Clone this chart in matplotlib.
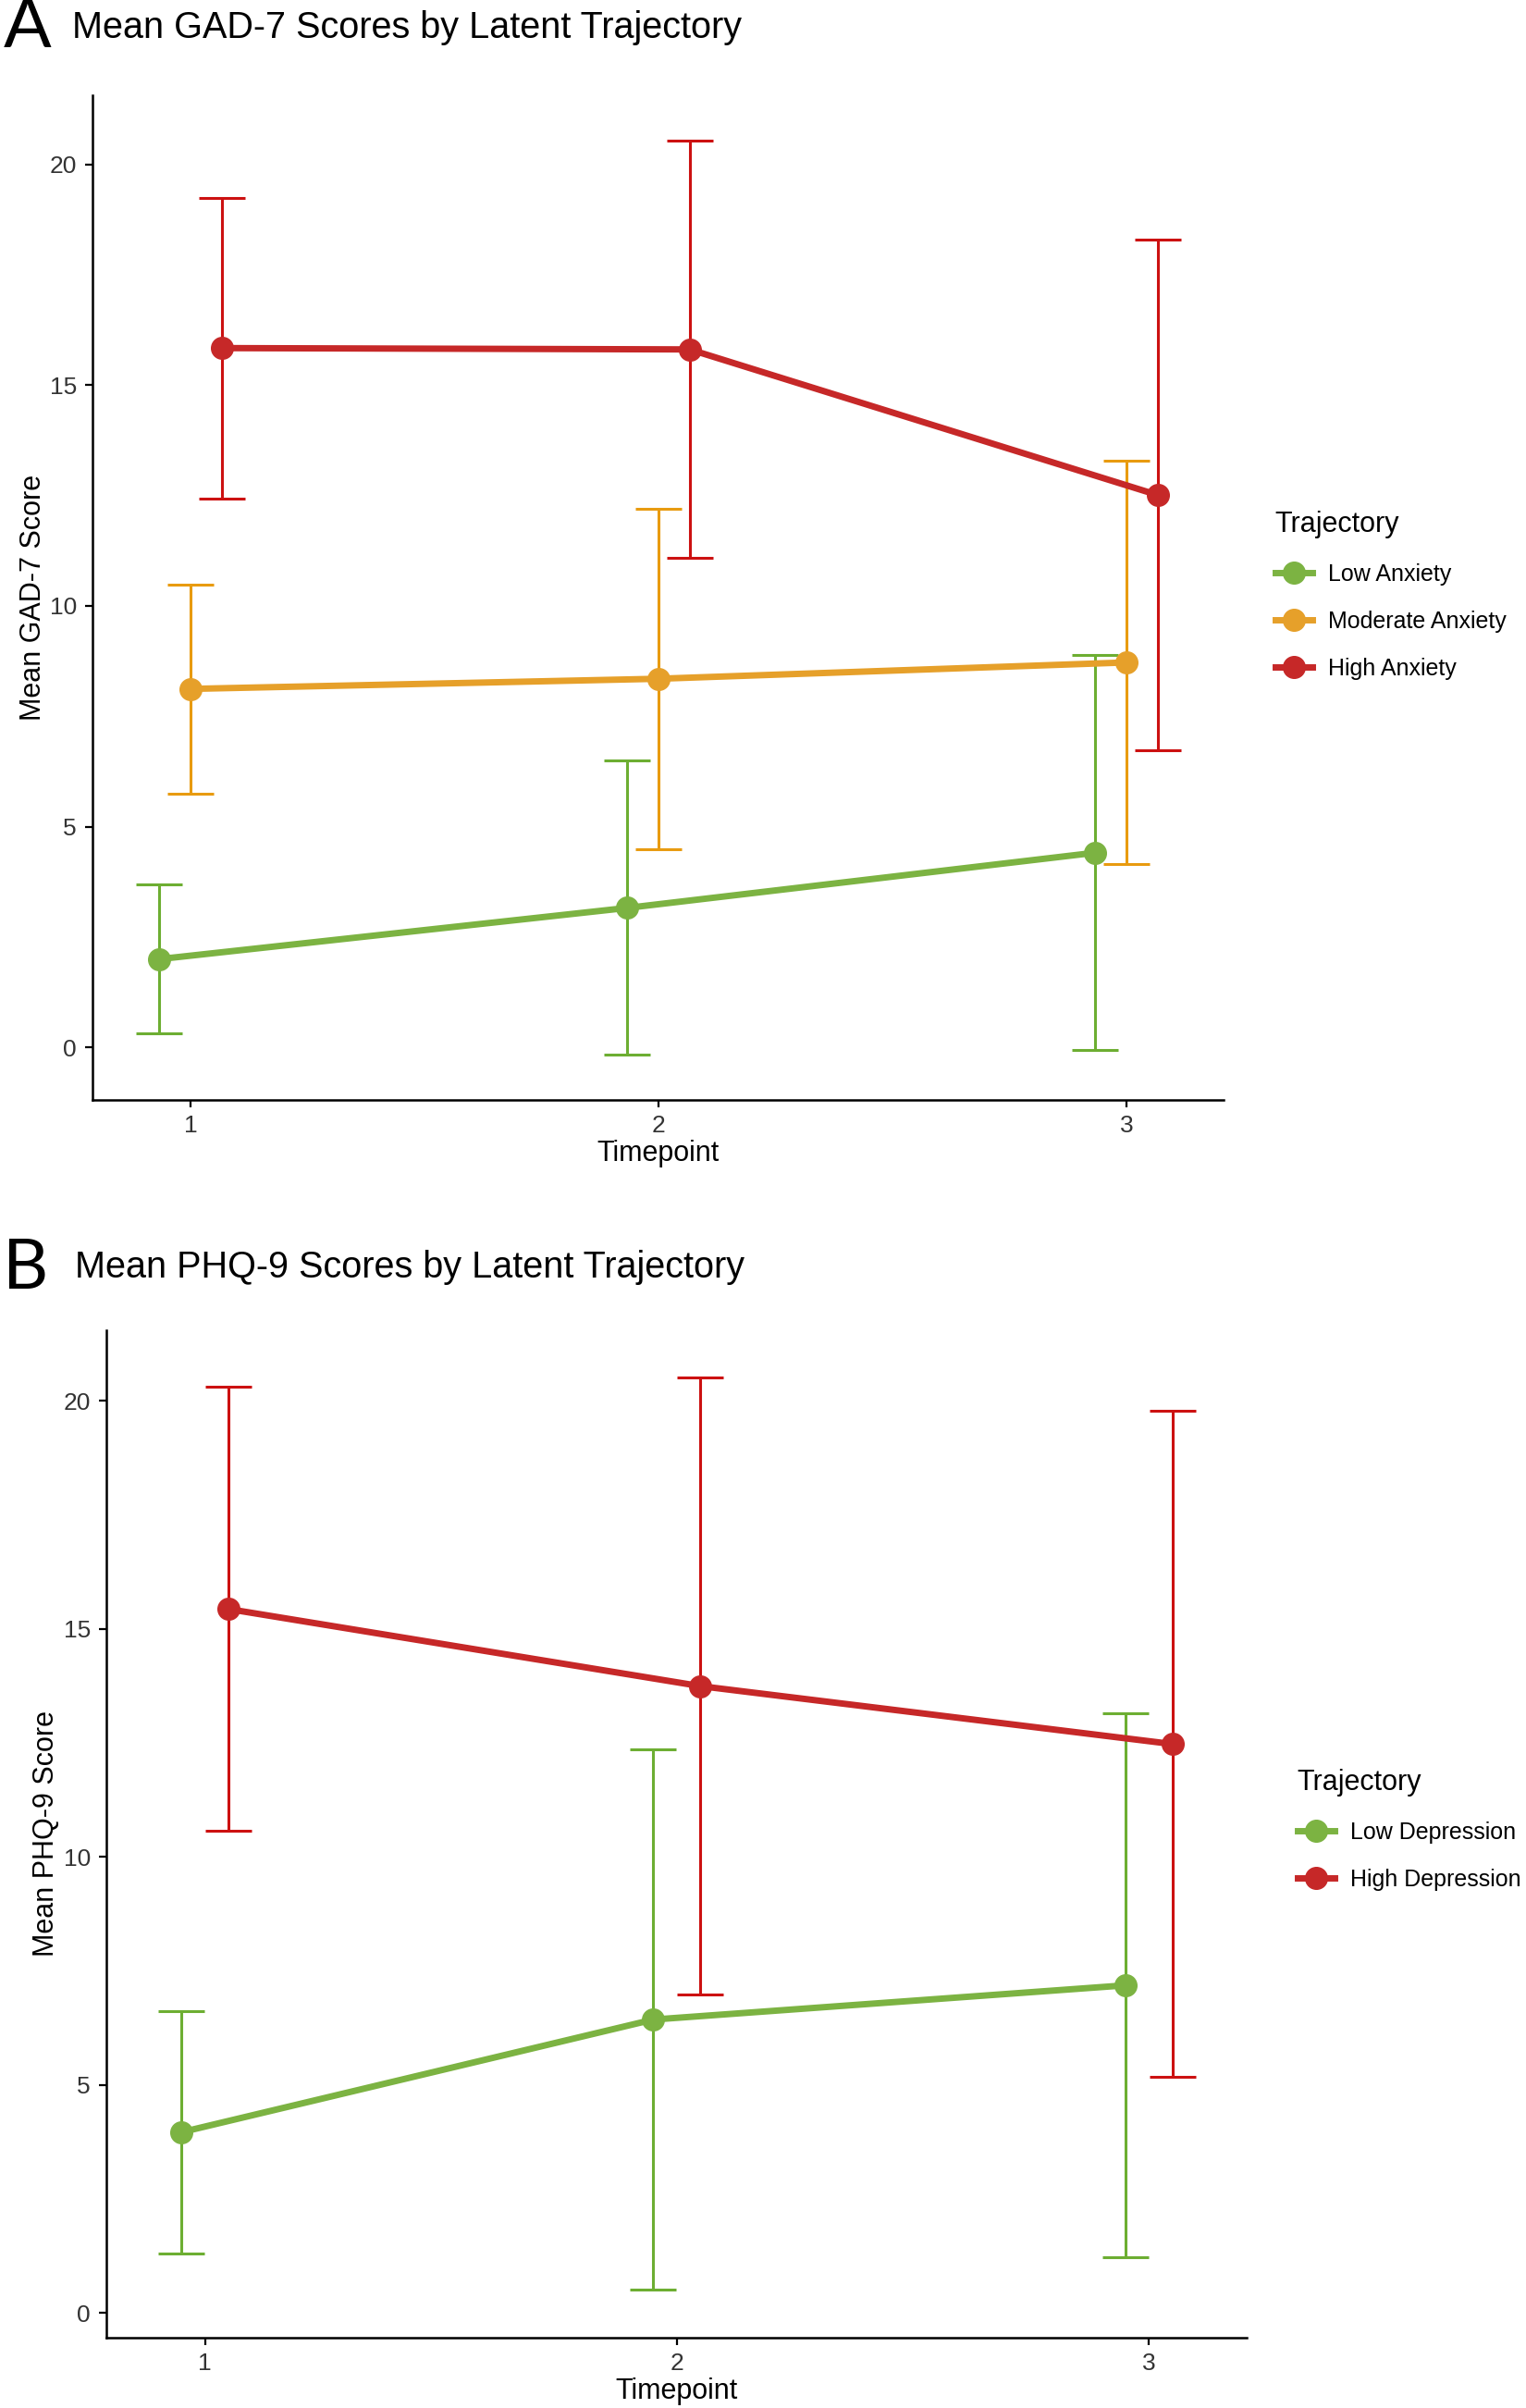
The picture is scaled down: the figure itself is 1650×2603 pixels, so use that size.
import matplotlib
matplotlib.use("Agg")
import matplotlib.pyplot as plt
from matplotlib.lines import Line2D

plt.rcParams['font.family'] = ['Liberation Sans', 'DejaVu Sans']

# data
timepoints = [1, 2, 3]

gad_groups = ["Low Anxiety", "Moderate Anxiety", "High Anxiety"]
gad_low_mean = [2.00, 3.16, 4.41]
gad_low_sd = [1.69, 3.33, 4.47]
gad_mod_mean = [8.12, 8.35, 8.72]
gad_mod_sd = [2.37, 3.86, 4.57]
gad_high_mean = [15.84, 15.81, 12.51]
gad_high_sd = [3.40, 4.72, 5.78]

phq_groups = ["Low Depression", "High Depression"]
phq_low_mean = [3.96, 6.43, 7.18]
phq_low_sd = [2.65, 5.93, 5.96]
phq_high_mean = [15.43, 13.74, 12.47]
phq_high_sd = [4.87, 6.76, 7.30]

# colours
GREEN, GREEN_E = "#7CB342", "#6DAE32"
ORANGE, ORANGE_E = "#E6A02A", "#E89B10"
RED, RED_E = "#C62828", "#CC1111"

fig = plt.figure(figsize=(16.5, 26.03), dpi=100)


def panel(rect, means, sds, labels, cols, ecols, ylabel, ylim, legend_xy):
    ax = fig.add_axes(rect)
    n = len(means)
    for i in range(n):
        off = (i - (n - 1) / 2) * 0.2 / n
        xs = [t + off for t in timepoints]
        ax.errorbar(xs, means[i], yerr=sds[i], fmt="none", ecolor=ecols[i],
                    elinewidth=2.2, capsize=18, capthick=2.2, zorder=2)
        ax.plot(xs, means[i], color=cols[i], lw=5, zorder=3,
                solid_capstyle="butt")
        ax.plot(xs, means[i], "o", color=cols[i], ms=17, mec=cols[i],
                zorder=4)

    ax.set_xlim(0.79, 3.207)
    ax.set_ylim(*ylim)
    ax.set_xticks(timepoints)
    ax.set_yticks([0, 5, 10, 15, 20])
    for s in ["top", "right"]:
        ax.spines[s].set_visible(False)
    for s in ["left", "bottom"]:
        ax.spines[s].set_linewidth(1.8)
    ax.tick_params(length=6, width=1.6, labelsize=19, labelcolor="#333333",
                   pad=6)
    ax.set_xlabel("Timepoint", fontsize=22)
    ax.set_ylabel(ylabel, fontsize=22)
    ax.xaxis.set_label_coords(0.5, -0.04)
    ax.yaxis.set_label_coords(-0.04, 0.5)

    handles = [Line2D([], [], color=cols[i], lw=5, marker="o", ms=17)
               for i in range(n)]
    ax.legend(handles, labels, title="Trajectory", loc="upper left",
              bbox_to_anchor=legend_xy, bbox_transform=fig.transFigure,
              frameon=False, fontsize=18, title_fontsize=22,
              alignment="left", handlelength=1.6, handletextpad=0.7,
              labelspacing=1.08, borderpad=0, borderaxespad=0)
    return ax


panel([0.0604, 0.5434, 0.7414, 0.4171],
      [gad_low_mean, gad_mod_mean, gad_high_mean],
      [gad_low_sd, gad_mod_sd, gad_high_sd],
      gad_groups, [GREEN, ORANGE, RED], [GREEN_E, ORANGE_E, RED_E],
      "Mean GAD-7 Score", (-1.18, 21.57), (0.8355, 0.788))

panel([0.0694, 0.0293, 0.7475, 0.4184],
      [phq_low_mean, phq_high_mean],
      [phq_low_sd, phq_high_sd],
      phq_groups, [GREEN, RED], [GREEN_E, RED_E],
      "Mean PHQ-9 Score", (-0.54, 21.55), (0.850, 0.2656))

fig.text(0.002, 0.9885, "A", fontsize=55, family=["Lato", "DejaVu Sans"],
         va="center", ha="left")
fig.text(0.0473, 0.9885, "Mean GAD-7 Scores by Latent Trajectory",
         fontsize=28.5, va="center", ha="left")
fig.text(0.002, 0.4733, "B", fontsize=55, family=["Lato", "DejaVu Sans"],
         va="center", ha="left")
fig.text(0.0491, 0.4737, "Mean PHQ-9 Scores by Latent Trajectory",
         fontsize=28.5, va="center", ha="left")

fig.savefig("out.png", dpi=100)
